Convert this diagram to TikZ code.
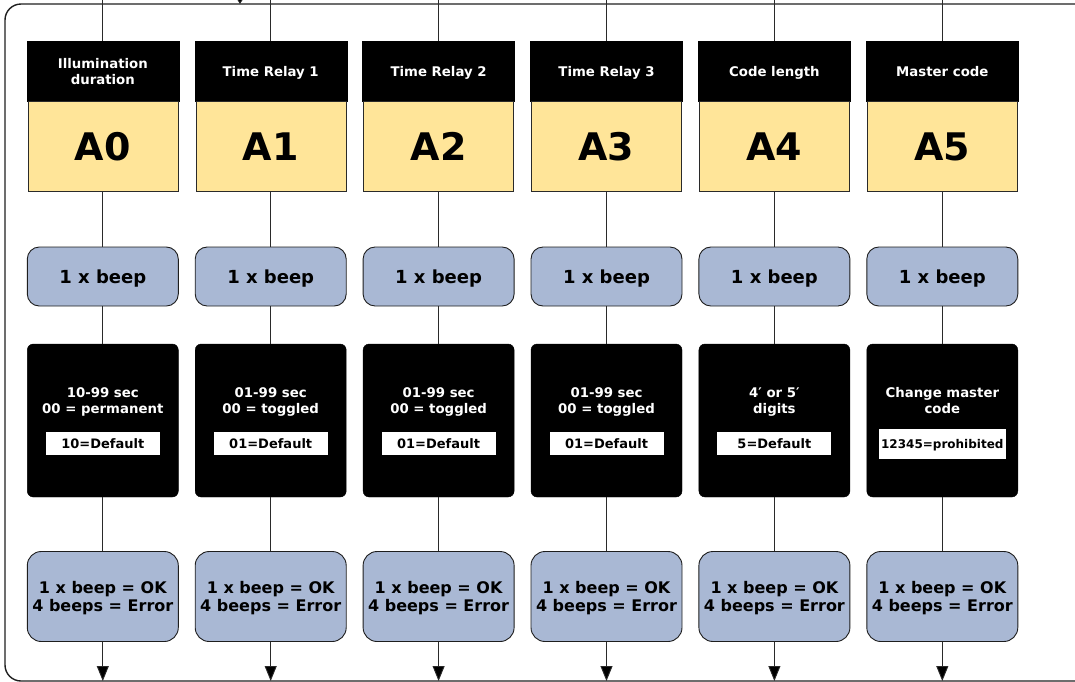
\documentclass[tikz,border=0pt]{standalone}
\usepackage{fontspec}
\setmainfont{DejaVu Sans}
\usetikzlibrary{arrows.meta}
\definecolor{yel}{HTML}{FFE599}
\definecolor{blu}{HTML}{A9B8D4}
\definecolor{ln}{HTML}{2A2A2A}
\definecolor{frm}{HTML}{1E1E1E}
\begin{document}
\begin{tikzpicture}[x=1pt,y=-1pt,
  conn/.style={draw=ln, line width=0.9pt},
  outarrow/.style={conn, -{Triangle[length=15pt,width=12pt,fill=black]}},
  inarrow/.style={conn, -{Triangle[length=5pt,width=6pt,fill=black]}},
  frame/.style={draw=frm, line width=1.4pt, rounded corners=16pt},
  hdrbox/.style={draw=black, fill=black, text=white, minimum width=152pt, minimum height=60pt, inner sep=0pt, text depth=0pt, align=center, font=\bfseries\fontsize{13.3}{16}\selectfont},
  yelbox/.style={draw=ln, fill=yel, text=black, minimum width=150pt, minimum height=90pt, inner sep=0pt, text depth=0pt, font=\bfseries\fontsize{38}{40}\selectfont},
  beepbox/.style={draw=frm, fill=blu, line width=0.9pt, rounded corners=12pt, minimum width=151pt, minimum height=59pt, inner sep=0pt, text depth=0pt, font=\bfseries\fontsize{18}{20}\selectfont},
  blkbox/.style={draw=black, fill=black, rounded corners=6pt, minimum width=151pt, minimum height=153pt, inner sep=0pt},
  blktxt/.style={text=white, align=center, inner sep=0pt, text depth=0pt, font=\bfseries\fontsize{13.3}{16}\selectfont},
  defbox/.style={fill=white, text=black, inner sep=2pt, text depth=0pt, minimum width=114pt},
  resbox/.style={draw=frm, fill=blu, line width=0.9pt, rounded corners=14pt, minimum width=151pt, minimum height=90pt, inner sep=0pt, text depth=0pt, align=center, font=\bfseries\fontsize{16}{18.5}\selectfont}
]
\useasboundingbox (0,0) rectangle (1075,681);
\clip (0,0) rectangle (1075,681);
\draw[frame] (5,4) rectangle (1200,681);
\coordinate (inA) at (240,-3);
\coordinate (inB) at (240,4);
\draw[inarrow] (inA) -- (inB);
\foreach \i/\hd/\ds/\df/\fs/\dh in {
  0/{Illumination\\duration}/{10-99 sec\\00 = permanent}/{10=Default}/13/23,
  1/{Time Relay 1}/{01-99 sec\\00 = toggled}/{01=Default}/13/23,
  2/{Time Relay 2}/{01-99 sec\\00 = toggled}/{01=Default}/13/23,
  3/{Time Relay 3}/{01-99 sec\\00 = toggled}/{01=Default}/13/23,
  4/{Code length}/{4′ or 5′\\digits}/{5=Default}/13/23,
  5/{Master code}/{Change master\\code}/{12345=prohibited}/12/30}{
  \pgfmathsetmacro\cx{102.8+167.9*\i}
  \coordinate (top\i) at (\cx,0);
  \coordinate (end\i) at (\cx,681);
  \node[hdrbox] (h\i) at (\cx,71) {\hd};
  \node[yelbox] (a\i) at (\cx,146.5) {A\i};
  \node[beepbox] (b\i) at (\cx,276.5) {1 x beep};
  \node[blkbox] (d\i) at (\cx,420.5) {};
  \node[blktxt] (t\i) at (\cx,400.5) {\ds};
  \node[defbox, minimum height=\dh pt, font=\bfseries\fontsize{\fs}{15}\selectfont] (f\i) at (\cx,443.5) {\df};
  \node[resbox] (r\i) at (\cx,596.5) {1 x beep = OK\\4 beeps = Error};
  \draw[conn] (top\i) -- (h\i);
  \draw[conn] (a\i) -- (b\i);
  \draw[conn] (b\i) -- (d\i);
  \draw[conn] (d\i) -- (r\i);
  \draw[outarrow] (r\i) -- (end\i);
}
\end{tikzpicture}
\end{document}
